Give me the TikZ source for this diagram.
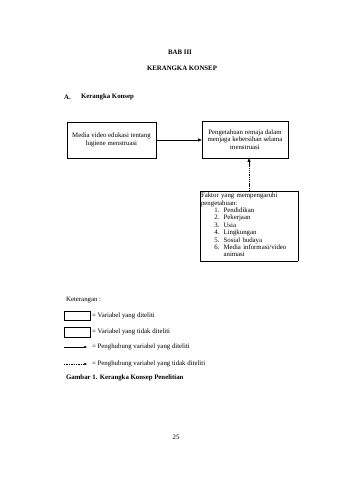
\documentclass[tikz,border=0pt]{standalone}
\usepackage{fontspec}
\setmainfont{Liberation Serif}
\usetikzlibrary{arrows.meta}
\newcommand{\pxu}{0.0619cm}
\tikzset{
  txt/.style   ={font=\fontsize{12}{13}\selectfont, inner sep=0pt},
  ttl/.style   ={txt, font=\fontsize{12}{13}\selectfont\bfseries},
  box/.style   ={draw, line width=0.8pt, align=center, txt},
  dotbox/.style={draw, line width=0.6pt, dash pattern=on 0.5pt off 1.1pt, txt},
  fl/.style    ={-{Triangle[length=2.2mm,width=1.8mm]}, line width=1.5pt},
  dfl/.style   ={fl, dash pattern=on 2pt off 1.2pt},
  lfl/.style   ={-{Triangle[length=1.6mm,width=1.3mm]}, line width=0.7pt},
  lbl/.style   ={txt, anchor=west}
}

\begin{document}
\begin{tikzpicture}[x=\pxu, y=-\pxu]
  \useasboundingbox (0,0) rectangle (339,480);
  \node[ttl] (bab)   at (180,52) {BAB III};
  \node[ttl] (judul) at (182,68) {KERANGKA KONSEP};
  \node[ttl, anchor=west] (subno) at (64,97) {A.};
  \node[ttl, anchor=west] (sub)   at (81,97) {Kerangka Konsep};

  % kerangka
  \node[box, minimum width=89*\pxu, minimum height=36*\pxu] (media) at (111.5,140)
    {Media video edukasi tentang\\higiene menstruasi};
  \node[box, minimum width=86*\pxu, minimum height=37*\pxu] (tahu) at (245,139.5)
    {Pengetahuan remaja dalam\\menjaga kebersihan selama\\menstruasi};
  \node[dotbox, anchor=north west, text width=96*\pxu, minimum height=70*\pxu,
        align=left, inner sep=1.5pt] (faktor) at (200,191)
    {Faktor yang mempengaruhi\\pengetahuan:\\
     \begin{tabular}{@{\hspace{0.82cm}}r@{\hspace{0.26cm}}l}
       1. & Pendidikan\\
       2. & Pekerjaan\\
       3. & Usia\\
       4. & Lingkungan\\
       5. & Sosial budaya\\
       6. & Media informasi/video\\
          & animasi
     \end{tabular}};

  \draw[fl]  (media.east) -- (media.east -| tahu.west);
  \draw[dfl] (faktor.north) -- (faktor.north |- tahu.south);

  % keterangan
  \node[lbl] (ket) at (66,300) {Keterangan :};
  \node[box, anchor=west, minimum width=26*\pxu, minimum height=9*\pxu] (lgbox) at (64,316) {};
  \node[lbl] (lgboxt) at (92,316) {= Variabel yang diteliti};
  \node[dotbox, anchor=west, minimum width=26*\pxu, minimum height=10*\pxu] (lgdot) at (64,332) {};
  \node[lbl] (lgdott) at (92,332) {= Variabel yang tidak diteliti};
  \coordinate (la) at (64,347); \coordinate (lb) at (87,347);
  \draw[lfl] (la) -- (lb);
  \node[lbl] (lgat) at (92,347) {= Penghubung variabel yang diteliti};
  \coordinate (lc) at (64,364); \coordinate (ld) at (87,364);
  \draw[lfl, dash pattern=on 2.4pt off 1.8pt] (lc) -- (ld);
  \node[lbl] (lgdt) at (92,364) {= Penghubung variabel yang tidak diteliti};
  \node[ttl, anchor=west] (gbr) at (66,378) {Gambar 1. Kerangka Konsep Penelitian};

  \node[txt] (hal) at (176,437) {25};
\end{tikzpicture}
\end{document}
